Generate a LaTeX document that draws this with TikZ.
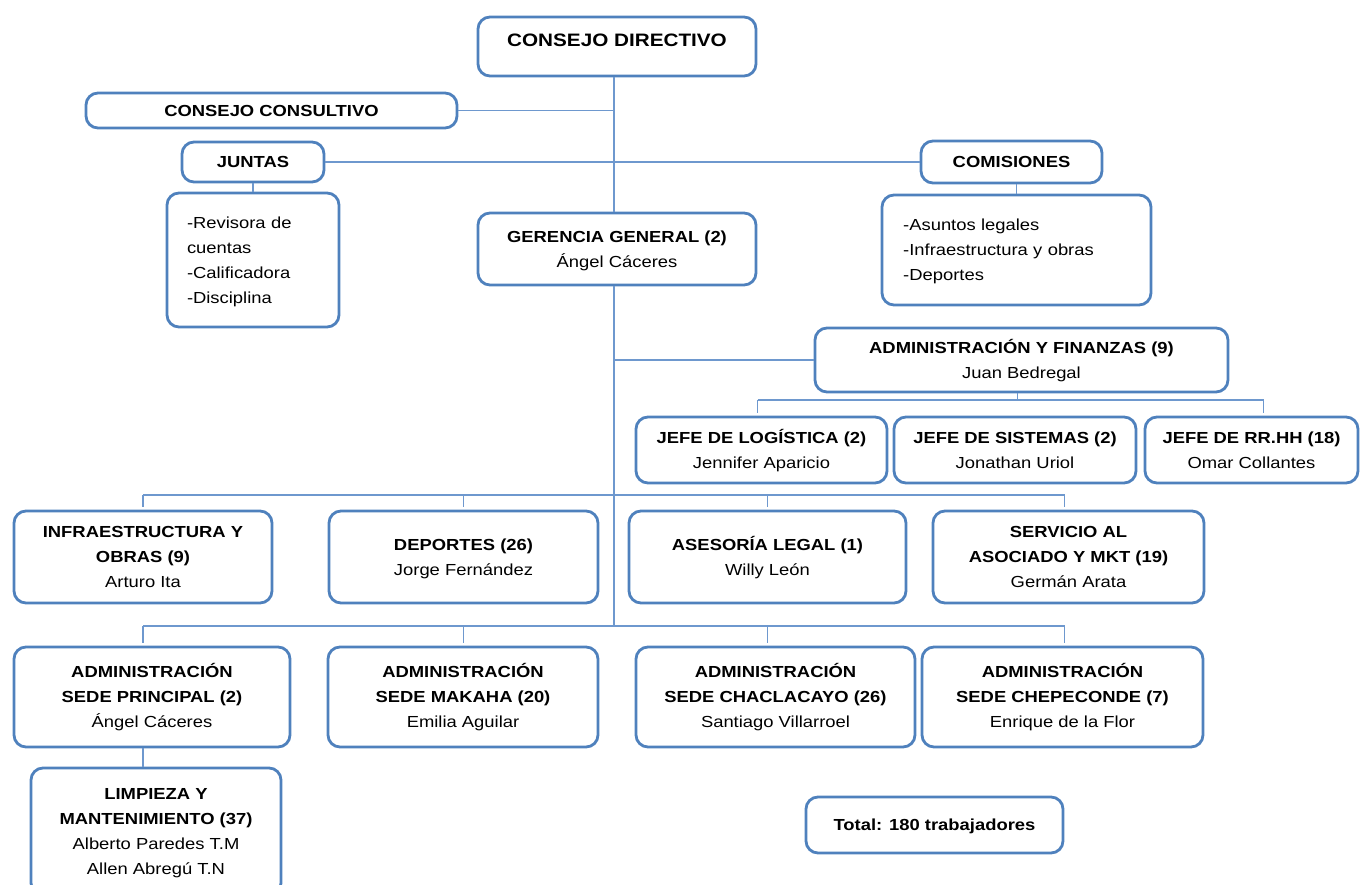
\documentclass[tikz,border=0pt]{standalone}
\usepackage{fontspec}
\setmainfont{Liberation Sans}[FakeStretch=1.15]
\definecolor{boxblue}{RGB}{79,129,189}
\definecolor{lineblue}{RGB}{110,152,206}
\tikzset{
  box/.style={draw=boxblue, line width=2.1pt, rounded corners=9pt, fill=white,
    inner sep=0pt, align=center, anchor=center, font=\fontsize{12}{18.75}\selectfont,
    text height=8.6pt, text depth=0pt},
  two/.style={text height=27.35pt},
  three/.style={text height=46.1pt},
  four/.style={text height=64.85pt},
  conn/.style={draw=lineblue, line width=1.4pt},
  stub/.style={conn, shorten >=2pt}
}
\newcommand\bx[6][]{\node[box,minimum width={(#5-#3)*0.75pt},minimum height={(#6-#4)*0.75pt},#1] (#2) at ({(#3+#5)/2},{(#4+#6)/2})}
\begin{document}
\begin{tikzpicture}[x=0.75pt,y=-0.75pt]
\useasboundingbox (0,0) rectangle (1360,885);
% nodes
\bx[text height=0pt]{cd}{478}{17}{756}{76} {\raisebox{0pt}[0pt][0pt]{\fontsize{13.5}{16}\selectfont\bfseries CONSEJO DIRECTIVO}};
\bx{cc}{86}{93}{457}{128} {\textbf{CONSEJO CONSULTIVO}};
\bx{ju}{182}{142}{324}{182} {\textbf{JUNTAS}};
\bx[text depth=56.25pt, align=left, text width=99pt]{jl}{167}{193}{339}{327} {-Revisora de\\cuentas\\-Calificadora\\-Disciplina};
\bx{co}{921}{141}{1102}{183} {\textbf{COMISIONES}};
\bx[text depth=37.5pt, align=left, text width=170pt]{cl}{882}{195}{1151}{305} {-Asuntos legales\\-Infraestructura y obras\\-Deportes};
\bx[two]{gg}{478}{213}{756}{285} {\textbf{GERENCIA GENERAL (2)}\\Ángel Cáceres};
\bx[two]{af}{815}{328}{1228}{392} {\textbf{ADMINISTRACIÓN Y FINANZAS (9)}\\Juan Bedregal};
\bx[two]{jg}{636}{417}{887}{483} {\textbf{JEFE DE LOGÍSTICA (2)}\\Jennifer Aparicio};
\bx[two]{js}{894}{417}{1136}{483} {\textbf{JEFE DE SISTEMAS (2)}\\Jonathan Uriol};
\bx[two]{jr}{1145}{417}{1358}{483} {\textbf{JEFE DE RR.HH (18)}\\Omar Collantes};
\bx[three]{in}{14}{511}{272}{603} {\textbf{INFRAESTRUCTURA Y}\\\textbf{OBRAS (9)}\\Arturo Ita};
\bx[two]{dp}{329}{511}{598}{603} {\textbf{DEPORTES (26)}\\Jorge Fernández};
\bx[two]{al}{629}{511}{906}{603} {\textbf{ASESORÍA LEGAL (1)}\\Willy León};
\bx[three]{sa}{933}{511}{1204}{603} {\textbf{SERVICIO AL}\\\textbf{ASOCIADO Y MKT (19)}\\Germán Arata};
\bx[three]{sp}{14}{647}{290}{747} {\textbf{ADMINISTRACIÓN}\\\textbf{SEDE PRINCIPAL (2)}\\Ángel Cáceres};
\bx[three]{mk}{328}{647}{598}{747} {\textbf{ADMINISTRACIÓN}\\\textbf{SEDE MAKAHA (20)}\\Emilia Aguilar};
\bx[three]{ch}{636}{647}{915}{747} {\textbf{ADMINISTRACIÓN}\\\textbf{SEDE CHACLACAYO (26)}\\Santiago Villarroel};
\bx[three]{cp}{922}{647}{1203}{747} {\textbf{ADMINISTRACIÓN}\\\textbf{SEDE CHEPECONDE (7)}\\Enrique de la Flor};
\bx[four]{lm}{31}{768}{281}{895} {\textbf{LIMPIEZA Y}\\\textbf{MANTENIMIENTO (37)}\\Alberto Paredes T.M\\Allen Abregú T.N};
\bx{tt}{806}{797}{1063}{853} {\textbf{Total: 180 trabajadores}};
% bus coordinates
\coordinate (tr) at ([xshift=-2.5pt]gg.south);
\coordinate (bf) at (0,400);
\coordinate (b1) at (0,495);
\coordinate (b2) at (0,626);
% connectors
\draw[conn] (cd.south -| tr) -- (gg.north -| tr);
\draw[conn] (cc.east) -- (cc.east -| tr);
\draw[conn] (ju.east) -- (co.west);
\draw[conn] (ju.south) -- (jl.north);
\draw[conn] (co.south -| cl.north) -- (cl.north);
\draw[conn] (tr) -- (tr |- b2);
\draw[conn] (af.west) -- (af.west -| tr);
\draw[conn] ([xshift=-3pt]af.south) -- ([xshift=-3pt]af.south |- bf);
\draw[conn] ([xshift=-3pt]jg.north |- bf) -- ([xshift=9pt]jr.north |- bf);
\draw[stub] ([xshift=-3pt]jg.north |- bf) -- ([xshift=-3pt]jg.north);
\draw[stub] ([xshift=9pt]jr.north |- bf) -- ([xshift=9pt]jr.north);
\draw[conn] (in.north |- b1) -- ([xshift=-3pt]sa.north |- b1);
\draw[stub] (in.north |- b1) -- (in.north);
\draw[stub] (dp.north |- b1) -- (dp.north);
\draw[stub] (al.north |- b1) -- (al.north);
\draw[stub] ([xshift=-3pt]sa.north |- b1) -- ([xshift=-3pt]sa.north);
\draw[conn] (in.north |- b2) -- ([xshift=-3pt]sa.north |- b2);
\draw[stub] (in.north |- b2) -- (in.north |- sp.north);
\draw[stub] (dp.north |- b2) -- (dp.north |- mk.north);
\draw[stub] (al.north |- b2) -- (al.north |- ch.north);
\draw[stub] ([xshift=-3pt]sa.north |- b2) -- ([xshift=-3pt]sa.north |- cp.north);
\draw[conn] (in.north |- sp.south) -- (in.north |- lm.north);
\end{tikzpicture}
\end{document}
